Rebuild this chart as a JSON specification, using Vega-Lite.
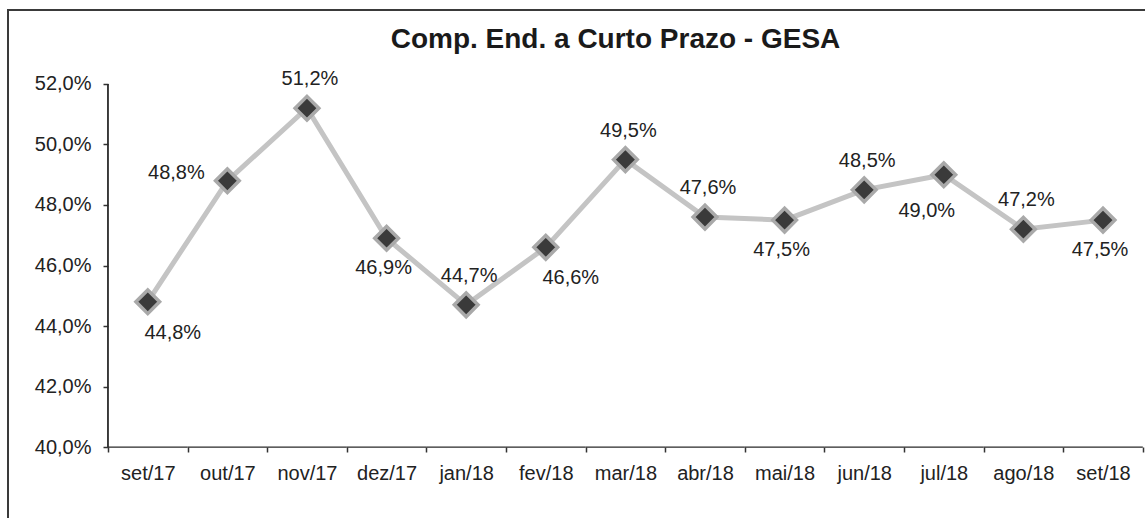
{
  "$schema": "https://vega.github.io/schema/vega-lite/v6.json",
  "width": 1145,
  "height": 512,
  "autosize": {"type": "none"},
  "padding": {"left": 8, "top": 10, "right": 0, "bottom": 0},
  "background": "white",
  "config": {
    "locale": {"number": {"decimal": ",", "thousands": ".", "grouping": [3], "currency": ["R$ ", ""]}},
    "view": {"stroke": "#3a3a3a", "strokeWidth": 2},
    "font": "Liberation Sans",
    "axis": {"domain": false, "grid": false, "labelFont": "Liberation Sans", "labelFontSize": 20, "labelColor": "#222222", "tickColor": "#333333", "tickWidth": 1.5, "tickSize": 5, "title": null}
  },
  "title": {"text": "Comp. End. a Curto Prazo - GESA", "fontSize": 28, "fontWeight": "bold", "font": "Liberation Sans", "color": "#1a1a1a", "anchor": "middle", "baseline": "alphabetic", "offset": -39, "dx": 35, "dy": 27},
  "data": {"values": [
    {"m": "set/17", "v": 0.448, "pos": "abaixo-direita"},
    {"m": "out/17", "v": 0.488, "pos": "esquerda"},
    {"m": "nov/17", "v": 0.512, "pos": "acima"},
    {"m": "dez/17", "v": 0.469, "pos": "abaixo"},
    {"m": "jan/18", "v": 0.447, "pos": "acima"},
    {"m": "fev/18", "v": 0.466, "pos": "abaixo-direita"},
    {"m": "mar/18", "v": 0.495, "pos": "acima"},
    {"m": "abr/18", "v": 0.476, "pos": "acima"},
    {"m": "mai/18", "v": 0.475, "pos": "abaixo"},
    {"m": "jun/18", "v": 0.485, "pos": "acima"},
    {"m": "jul/18", "v": 0.490, "pos": "abaixo-esquerda"},
    {"m": "ago/18", "v": 0.472, "pos": "acima"},
    {"m": "set/18", "v": 0.475, "pos": "abaixo"}
  ]},
  "encoding": {
    "x": {"field": "m", "type": "ordinal", "bandPosition": 0.5,
      "scale": {"type": "band", "domain": ["set/17","out/17","nov/17","dez/17","jan/18","fev/18","mar/18","abr/18","mai/18","jun/18","jul/18","ago/18","set/18"], "paddingInner": 0, "paddingOuter": 0.692, "align": 0.9074},
      "axis": {"orient": "bottom", "offset": -75, "tickBand": "extent", "labelAngle": 0, "labelPadding": 11}},
    "y": {"field": "v", "type": "quantitative",
      "scale": {"domain": [0.37521, 0.54446], "nice": false, "zero": false},
      "axis": {"offset": -100, "values": [0.40, 0.42, 0.44, 0.46, 0.48, 0.50, 0.52], "format": ".1%", "labelPadding": 12}}
  },
  "layer": [
    {"transform": [{"filter": "datum.m === 'set/17'"}], "mark": {"type": "rule", "color": "#2a2a2a", "strokeWidth": 1.8},
      "encoding": {"x": {"field": "m", "type": "ordinal", "bandPosition": 0}, "y": {"datum": 0.40, "type": "quantitative"}, "y2": {"datum": 0.52}}},
    {"mark": {"type": "rect", "stroke": "#2a2a2a", "strokeWidth": 1.25, "fill": "#2a2a2a"},
      "encoding": {"x": {"field": "m", "type": "ordinal"}, "y": {"datum": 0.40, "type": "quantitative"}, "y2": {"datum": 0.40}}},
    {"mark": {"type": "line", "color": "#c4c4c4", "strokeWidth": 5}},
    {"mark": {"type": "point", "shape": "diamond", "filled": true, "fill": "#3a3a3a", "stroke": "#a9a9a9", "strokeWidth": 3.5, "size": 560, "opacity": 1}},
    {"transform": [{"filter": "datum.pos === 'acima'"}], "mark": {"type": "text", "fontSize": 20, "color": "#222222", "dy": -29, "dx": 3}, "encoding": {"text": {"field": "v", "format": ".1%"}}},
    {"transform": [{"filter": "datum.pos === 'abaixo'"}], "mark": {"type": "text", "fontSize": 20, "color": "#222222", "dy": 30, "dx": -3}, "encoding": {"text": {"field": "v", "format": ".1%"}}},
    {"transform": [{"filter": "datum.pos === 'abaixo-direita'"}], "mark": {"type": "text", "fontSize": 20, "color": "#222222", "dy": 31, "dx": 25}, "encoding": {"text": {"field": "v", "format": ".1%"}}},
    {"transform": [{"filter": "datum.pos === 'abaixo-esquerda'"}], "mark": {"type": "text", "fontSize": 20, "color": "#222222", "dy": 36, "dx": -17}, "encoding": {"text": {"field": "v", "format": ".1%"}}},
    {"transform": [{"filter": "datum.pos === 'esquerda'"}], "mark": {"type": "text", "fontSize": 20, "color": "#222222", "dy": -8, "dx": -51}, "encoding": {"text": {"field": "v", "format": ".1%"}}}
  ]
}
